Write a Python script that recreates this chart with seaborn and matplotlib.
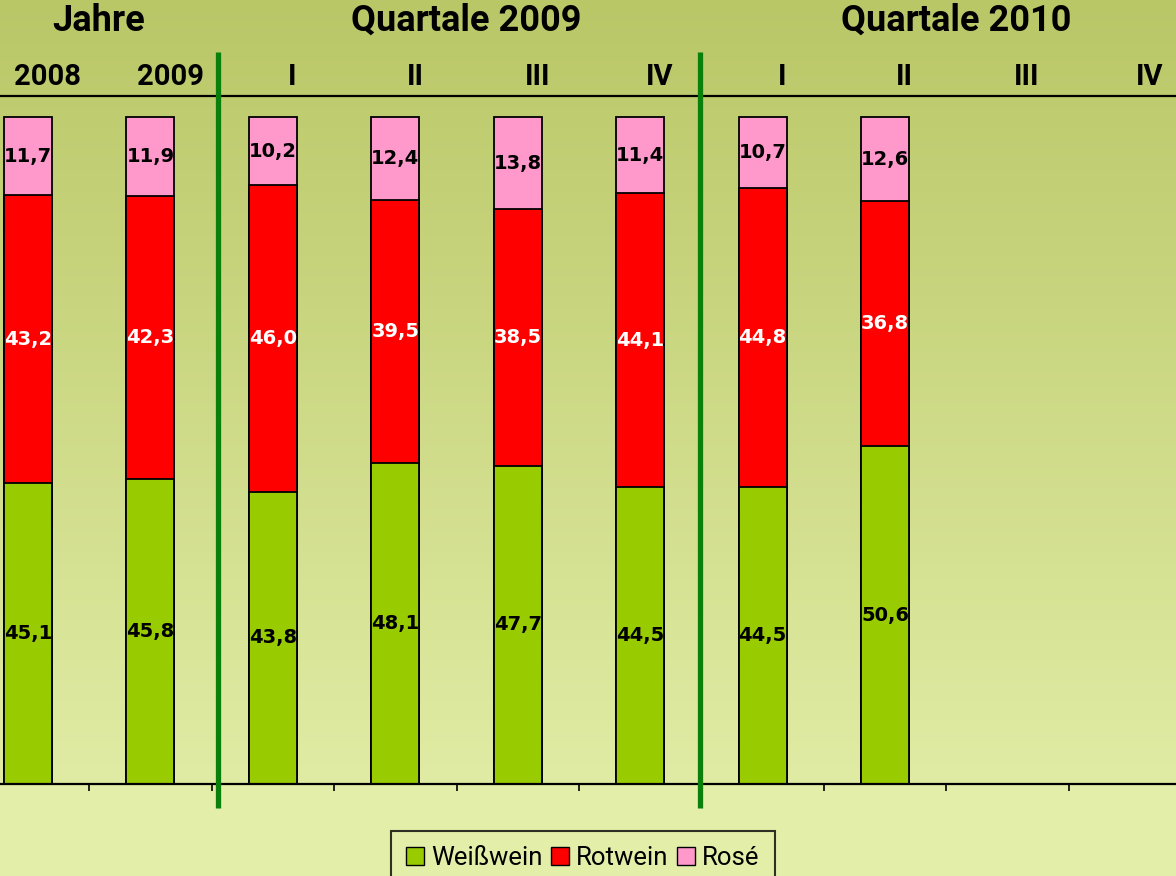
import numpy as np
import pandas as pd
import seaborn as sns
import matplotlib
matplotlib.use("Agg")
import matplotlib.pyplot as plt
import matplotlib.transforms as mtransforms
from matplotlib.lines import Line2D
from matplotlib.patches import Patch

# data (shares in %)
keys = ["2008", "2009", "Q1 2009", "Q2 2009", "Q3 2009", "Q4 2009",
        "Q1 2010", "Q2 2010", "Q3 2010", "Q4 2010"]
tick_labels = ["2008", "2009", "I", "II", "III", "IV", "I", "II", "III", "IV"]
weisswein = [45.1, 45.8, 43.8, 48.1, 47.7, 44.5, 44.5, 50.6]
rotwein = [43.2, 42.3, 46.0, 39.5, 38.5, 44.1, 44.8, 36.8]
rose = [11.7, 11.9, 10.2, 12.4, 13.8, 11.4, 10.7, 12.6]
groups = ["Jahre", "Quartale 2009", "Quartale 2010"]
group_members = [(0, 1), (2, 5), (6, 9)]

c_weiss = "#99cc00"
c_rot = "#ff0000"
c_rose = "#ff99cc"

sns.set_theme(style="white")
plt.rcParams["font.family"] = ["Roboto", "DejaVu Sans"]
plt.rcParams["text.color"] = "black"

n = len(weisswein)
df = pd.DataFrame({
    "key": keys[:n],
    "weiss": weisswein,
    "rot": rotwein,
    "rose": rose,
})
df["cum_rot"] = df["weiss"] + df["rot"]
df["cum_rose"] = df["cum_rot"] + df["rose"]

fig = plt.figure(figsize=(11.76, 8.76), dpi=100)

# background gradient
bg = fig.add_axes([0, 0, 1, 1], zorder=-10)
grad = np.ones((876, 1, 3))
top = np.array(matplotlib.colors.to_rgb("#bac767"))
mid = np.array(matplotlib.colors.to_rgb("#e0eca4"))
low = np.array(matplotlib.colors.to_rgb("#e3eea8"))
for r in range(876):
    if r < 784:
        t = r / 784
        grad[r, 0] = top * (1 - t) + mid * t
    else:
        grad[r, 0] = low
bg.imshow(grad, aspect="auto", extent=[0, 1, 0, 1])
bg.axis("off")

ax = fig.add_axes([0, 92 / 876, 1, 688 / 876])
ax.set_facecolor("none")

bw = 0.392
kw = dict(data=df, x="key", order=keys, width=bw, edgecolor="black",
          linewidth=1.3, errorbar=None, ax=ax, saturation=1)
sns.barplot(y="cum_rose", color=c_rose, **kw)
sns.barplot(y="cum_rot", color=c_rot, **kw)
sns.barplot(y="weiss", color=c_weiss, **kw)

# value labels
for i, row in df.iterrows():
    segs = [(0, row["weiss"], "black"),
            (row["weiss"], row["rot"], "white"),
            (row["cum_rot"], row["rose"], "black")]
    for base, val, col in segs:
        ax.text(i, base + val / 2, f"{val:.1f}".replace(".", ","),
                ha="center", va="center", color=col, fontsize=14,
                fontweight="bold", family="DejaVu Sans")

spacing = 122.43
ax.set_xlim(-28 / spacing, (1176 - 28) / spacing)
ax.set_ylim(0, 688 / 667 * 100)
ax.set_xlabel("")
ax.set_ylabel("")
ax.set_yticks([])
ax.set_xticks(np.arange(len(keys) - 1) + 0.5)
ax.set_xticklabels([])
ax.tick_params(axis="x", direction="out", length=5, width=1.2, color="black",
               bottom=True)
for s in ["left", "right"]:
    ax.spines[s].set_visible(False)
for s in ["top", "bottom"]:
    ax.spines[s].set_color("black")
    ax.spines[s].set_linewidth(1.6)

trans = mtransforms.blended_transform_factory(ax.transData, fig.transFigure)
for i, lab in enumerate(tick_labels):
    ax.text(i + 0.16, 1 - 77 / 876, lab, transform=trans, ha="center",
            va="center", fontsize=21, fontweight="bold", clip_on=False)
for g, (a, b) in zip(groups, group_members):
    ax.text((a + b) / 2 + 0.08, 1 - 21 / 876, g, transform=trans,
            ha="center", va="center", fontsize=26, fontweight="bold",
            clip_on=False)

# group separators
for xs in [1.55, 5.49]:
    fig.add_artist(Line2D([xs, xs], [1 - 52 / 876, 1 - 808 / 876],
                          transform=trans, color="#0a800a", linewidth=3.8,
                          solid_capstyle="butt"))

handles = [Patch(facecolor=c_weiss, edgecolor="black", label="Weißwein"),
           Patch(facecolor=c_rot, edgecolor="black", label="Rotwein"),
           Patch(facecolor=c_rose, edgecolor="black", label="Rosé")]
leg = fig.legend(handles=handles, loc="upper left",
                 bbox_to_anchor=(391 / 1176, 1 - 831 / 876), ncol=3,
                 fontsize=18.5, frameon=True, fancybox=False,
                 handlelength=0.7, handleheight=0.7, handletextpad=0.25,
                 columnspacing=0.35, borderpad=0.6, borderaxespad=0)
leg.get_frame().set_edgecolor("black")
leg.get_frame().set_linewidth(1.5)
leg.get_frame().set_facecolor("#e3eea8")

fig.savefig("out.png", dpi=100)
